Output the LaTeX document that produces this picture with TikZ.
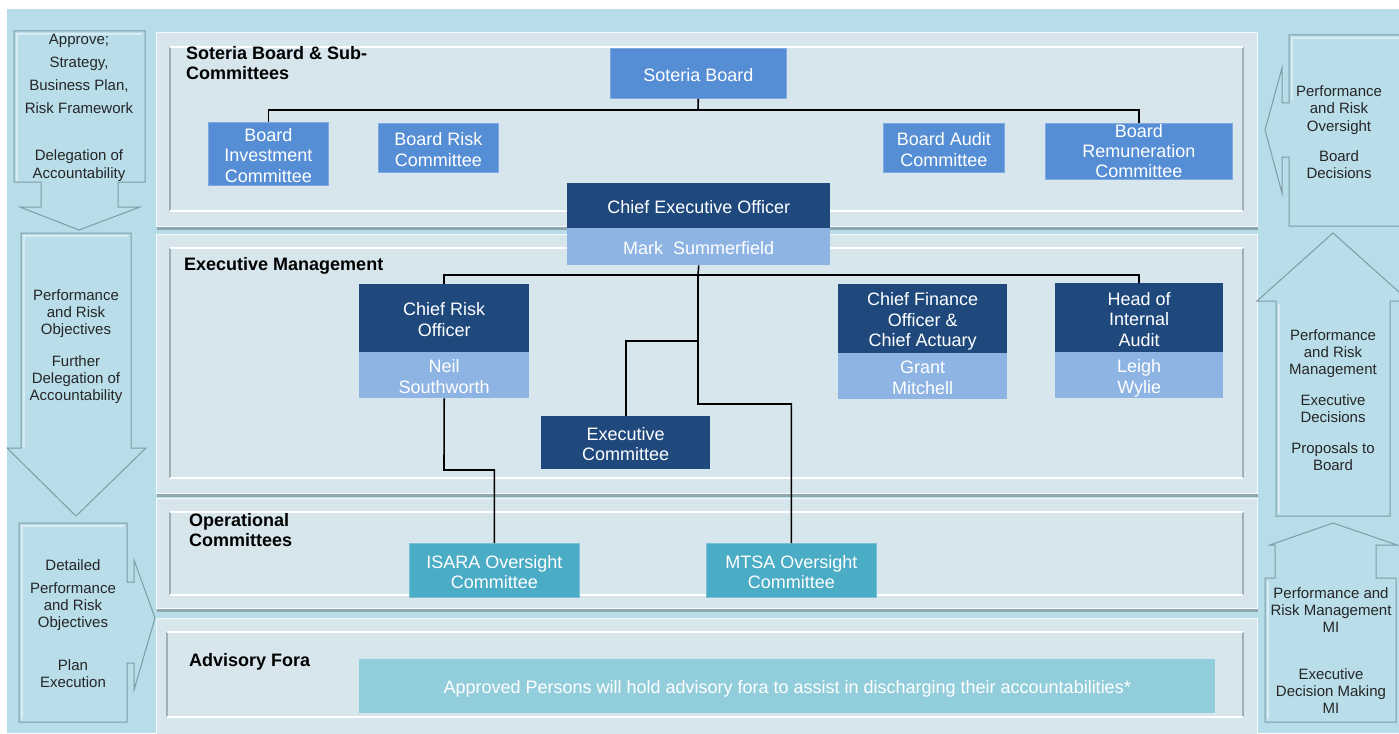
\documentclass[tikz,border=0pt]{standalone}
\usepackage{fontspec}
\setmainfont{Liberation Sans}
\definecolor{bgblue}{HTML}{B7DDE8}
\definecolor{panelfill}{HTML}{D6E6EC}
\definecolor{panelshadow}{HTML}{8FA8AF}
\definecolor{panelline}{HTML}{9DB1B7}
\definecolor{arrowfill}{HTML}{B9DEE9}
\definecolor{arrowedge}{HTML}{7E9CA5}
\definecolor{boardblue}{HTML}{558ED5}
\definecolor{darkblue}{HTML}{1F497D}
\definecolor{nameblue}{HTML}{8EB4E3}
\definecolor{opteal}{HTML}{4BACC6}
\definecolor{advfill}{HTML}{92CDDC}
\newcommand\boxfont{\fontsize{18}{20.5}\selectfont}
\newcommand\arrfont{\fontsize{15}{17}\selectfont}
\newcommand\ttlfont{\fontsize{18}{20}\selectfont\bfseries}
\newcommand\lt{\rule{0pt}{19pt}}
\newcommand\lb{\rule[-3pt]{0pt}{3pt}}
\tikzset{
  orgbox/.style={inner sep=0pt, anchor=north west, text=white, align=center, font=\boxfont},
  boardbox/.style={orgbox, fill=boardblue, draw=boardblue!75!white, line width=0.6pt},
  rolebox/.style={orgbox, fill=darkblue},
  namebox/.style={orgbox, fill=nameblue},
  opbox/.style={orgbox, fill=opteal, draw=opteal!75!white, line width=0.6pt},
  conn/.style={draw=black, line width=1.6pt},
  arrowshape/.style={fill=arrowfill, draw=arrowedge, line width=1pt, line join=miter},
  arrowhl/.style={draw=white, draw opacity=0.45, line width=1.2pt, line join=miter},
  arrowtext/.style={inner sep=0pt, align=center, font=\arrfont, text=black!85},
  title/.style={inner sep=0pt, anchor=west, align=left, font=\ttlfont},
  panelbody/.style={fill=panelfill, draw=white!80!panelfill, line width=1pt},
}
\newcommand\panel[8]{%
  \fill[panelshadow] (#1+1,#2+3) rectangle (#3+1,#4+4);
  \draw[panelbody] (#1,#2) rectangle (#3,#4);
  \draw[panelline, line width=1.3pt] (#5,#6) -- (#5,#8) (#7,#6) -- (#7,#8);
  \draw[white, line width=1.5pt] (#5,#6) -- (#7,#6) (#5,#8) -- (#7,#8);
}
\begin{document}
\begin{tikzpicture}[x=1pt,y=-1pt]
\useasboundingbox (0,0) rectangle (1399,733);
\fill[white] (0,0) rectangle (1399,733);
\fill[bgblue] (7,9) rectangle (1399,733);

% panels
\panel{156}{33}{1257}{226}{170}{47}{1243}{211}
\panel{156}{234}{1257}{493}{170}{248}{1243}{478}
\panel{156}{498}{1257}{608}{170}{512}{1243}{595}
\panel{156}{618}{1257}{736}{167}{632}{1243}{717}

% left arrows
\draw[arrowshape] (14,31) -- (145,31) -- (145,182) -- (118,182) -- (118,207) -- (140,207) -- (79,230) -- (20,207) -- (41,207) -- (41,182) -- (14,182) -- cycle;
\draw[arrowhl] (17,181) -- (17,34) -- (142,34);
\draw[arrowshape] (21,233) -- (131,233) -- (131,448) -- (146,448) -- (76,516) -- (7,448) -- (21,448) -- cycle;
\draw[arrowhl] (24,447) -- (24,236) -- (128,236);
\draw[arrowshape] (19,523) -- (127,523) -- (127,582) -- (134,582) -- (134,560) -- (155,618) -- (134,690) -- (134,663) -- (127,663) -- (127,722) -- (19,722) -- cycle;
\draw[arrowhl] (22,719) -- (22,526) -- (124,526);

% right arrows
\draw[arrowshape] (1289,35) -- (1402,35) -- (1402,226) -- (1289,226) -- (1289,157) -- (1282,157) -- (1282,193) -- (1265,130) -- (1282,68) -- (1282,103) -- (1289,103) -- cycle;
\draw[arrowhl] (1292,100) -- (1292,38) -- (1399,38);
\draw[arrowshape] (1276,516) -- (1276,301) -- (1257,301) -- (1333,233) -- (1409,301) -- (1390,301) -- (1390,516) -- cycle;
\draw[arrowhl] (1279,513) -- (1279,304);
\draw[arrowshape] (1265,722) -- (1265,578) -- (1275,578) -- (1275,545) -- (1270,545) -- (1333,523) -- (1397,545) -- (1376,545) -- (1376,578) -- (1396,578) -- (1396,722) -- cycle;
\draw[arrowhl] (1268,719) -- (1268,581);

% arrow texts
\node[arrowtext, font=\fontsize{15}{18}\selectfont] (la1) at (79,108) {Approve;\\[5pt]Strategy,\\[5pt]Business Plan,\\[5pt]Risk Framework\\[29pt]Delegation of\\Accountability};
\node[arrowtext] (la2) at (76,347) {Performance\\and Risk\\Objectives\\[15pt]Further\\Delegation of\\Accountability};
\node[arrowtext] (la3) at (73,624) {Detailed\\[6pt]Performance\\and Risk\\Objectives\\[26pt]Plan\\Execution};
\node[arrowtext, font=\fontsize{15}{17.5}\selectfont] (ra1) at (1339,132) {Performance\\and Risk\\Oversight\\[12.5pt]Board\\Decisions};
\node[arrowtext] (ra2) at (1333,400) {Performance\\and Risk\\Management\\[14pt]Executive\\Decisions\\[14pt]Proposals to\\Board};
\node[arrowtext] (ra3) at (1331,651) {Performance and\\Risk Management\\MI\\[30pt]Executive\\Decision Making\\MI};

% titles
\node[title] (t1) at (186,63) {Soteria Board \& Sub-\\Committees};
\node[title] (t2) at (184,266) {Executive Management};
\node[title] (t3) at (189,530) {Operational\\Committees};
\node[title] (t4) at (189,662) {Advisory Fora};

% board
\node[boardbox, minimum width=176pt, minimum height=50pt] (sb) at (610,48) {\lt Soteria Board\lb};
\node[boardbox, minimum width=120pt, minimum height=63pt] (bic) at (208,122) {\lt Board\\Investment\\Committee\lb};
\node[boardbox, minimum width=120pt, minimum height=49pt] (brc) at (378,123) {\lt Board Risk\\Committee\lb};
\node[boardbox, minimum width=121pt, minimum height=49pt] (bac) at (883,123) {\lt Board Audit\\Committee\lb};
\node[boardbox, minimum width=187pt, minimum height=56pt, font=\fontsize{18}{20}\selectfont] (brem) at (1045,123) {Board\\Remuneration\\Committee};

% executive
\node[rolebox, minimum width=263pt, minimum height=45pt] (ceo) at (567,183) {\lt Chief Executive Officer\lb};
\node[namebox, minimum width=263pt, minimum height=37pt] (ceon) at (567,228) {\lt Mark~ Summerfield\lb};
\node[rolebox, minimum width=170pt, minimum height=68pt] (cro) at (359,284) {\lt Chief Risk\\Officer\lb};
\node[namebox, minimum width=170pt, minimum height=46pt] (cron) at (359,352) {\lt Neil\\Southworth\lb};
\node[rolebox, minimum width=169pt, minimum height=69pt] (cfo) at (838,284) {\lt Chief Finance\\Officer \&\\Chief Actuary\lb};
\node[namebox, minimum width=169pt, minimum height=46pt] (cfon) at (838,353) {\lt Grant\\Mitchell\lb};
\node[rolebox, minimum width=168pt, minimum height=69pt] (hia) at (1055,283) {\lt Head of\\Internal\\Audit\lb};
\node[namebox, minimum width=168pt, minimum height=46pt] (hian) at (1055,352) {\lt Leigh\\Wylie\lb};
\node[rolebox, minimum width=169pt, minimum height=53pt] (exco) at (541,416) {\lt Executive\\Committee\lb};

% operational
\node[opbox, minimum width=170pt, minimum height=54pt] (isara) at (409,543) {\lt ISARA Oversight\\Committee\lb};
\node[opbox, minimum width=170pt, minimum height=54pt] (mtsa) at (706,543) {\lt MTSA Oversight\\Committee\lb};

% advisory
\node[orgbox, fill=advfill, minimum width=856pt, minimum height=54pt, font=\fontsize{18}{20}\selectfont] (adv) at (359,659) {\lt Approved Persons will hold advisory fora to assist in discharging their accountabilities*\lb};

% connectors
\coordinate (bj) at (698,110);
\draw[conn] (sb.south) -- (bj);
\draw[conn] (bj) -| (bic.north);
\draw[conn] (bj) -| (brem.north);
\coordinate (ej) at (698,275);
\coordinate (xj) at (698,341);
\coordinate (mj) at (698,404);
\coordinate (cj) at (444,470);
\draw[conn] (ceon.south) -- (ej) -- (xj) -- (mj) -| (mtsa.north);
\draw[conn] (ej) -| (cro.north);
\draw[conn] (ej) -| (hia.north);
\draw[conn] (xj) -| (exco.north);
\draw[conn] (cron.south) -- (cj) -| (isara.north);
\end{tikzpicture}
\end{document}
